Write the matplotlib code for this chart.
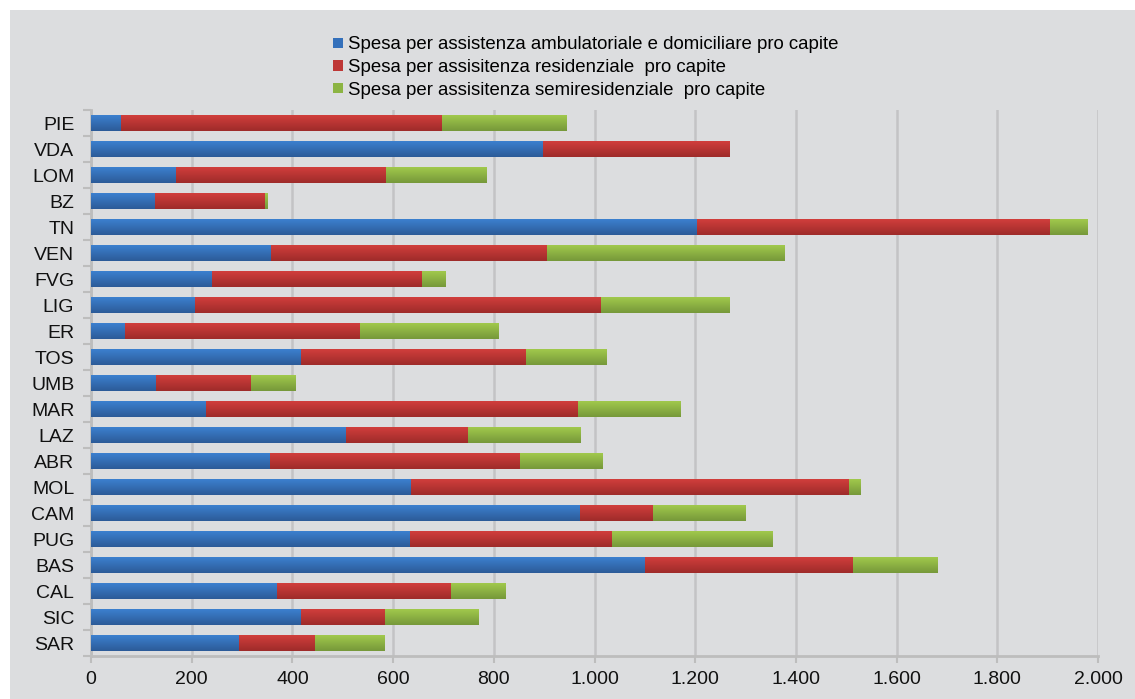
import numpy as np
import matplotlib.pyplot as plt
from matplotlib.patches import Rectangle
from matplotlib.colors import LinearSegmentedColormap
from matplotlib.ticker import FuncFormatter

plt.rcParams['font.family'] = ['Liberation Sans', 'DejaVu Sans']

regions = ['PIE', 'VDA', 'LOM', 'BZ', 'TN', 'VEN', 'FVG', 'LIG', 'ER', 'TOS', 'UMB',
           'MAR', 'LAZ', 'ABR', 'MOL', 'CAM', 'PUG', 'BAS', 'CAL', 'SIC', 'SAR']

# spesa pro capite (euro)
ambulatoriale = [60, 897, 169, 127, 1203, 357, 240, 206, 67, 417, 129,
                 228, 506, 355, 636, 971, 633, 1100, 370, 417, 294]
residenziale = [637, 370, 417, 218, 702, 549, 417, 807, 467, 447, 189,
                739, 242, 497, 869, 145, 401, 413, 345, 167, 151]
semiresidenziale = [248, 0, 200, 4, 75, 472, 46, 256, 276, 159, 89,
                    203, 223, 163, 22, 183, 318, 167, 109, 185, 139]

labels = ['Spesa per assistenza ambulatoriale e domiciliare pro capite',
          'Spesa per assisitenza residenziale  pro capite',
          'Spesa per assisitenza semiresidenziale  pro capite']
colors = ['#3470bb', '#be3736', '#8cb443']
# top / bottom shades for the vertical gradient
shades = [('#3c80cf', '#2c5b98'), ('#d13e3c', '#9e2b2a'), ('#a1c94c', '#76983a')]
bg = '#dcdddf'

fig = plt.figure(figsize=(11.35, 6.99), dpi=100)
fig.patch.set_facecolor('white')
fig.add_artist(Rectangle((10 / 1135, 0), 1, 689 / 699, transform=fig.transFigure,
                         facecolor=bg, edgecolor='none', zorder=0))

ax = fig.add_axes([91 / 1135, 1 - 656 / 699, (1098 - 91) / 1135, (656 - 110) / 699])
ax.set_facecolor(bg)

y = np.arange(len(regions))
amb = np.array(ambulatoriale)
res = np.array(residenziale)
semi = np.array(semiresidenziale)
h = 0.615
series = [(amb, np.zeros_like(amb)), (res, amb), (semi, amb + res)]
grad = np.linspace(0, 1, 64).reshape(-1, 1)
for i, (vals, left) in enumerate(series):
    bars = ax.barh(y, vals, left=left, height=h, color=colors[i], label=labels[i], zorder=3)
    cmap = LinearSegmentedColormap.from_list(f'g{i}', shades[i])
    for b in bars:
        x0, y0 = b.get_x(), b.get_y()
        w, hh = b.get_width(), b.get_height()
        if w <= 0:
            continue
        # y axis is inverted: y0 is the visual top
        ax.imshow(grad, cmap=cmap, aspect='auto', interpolation='bilinear',
                  extent=[x0, x0 + w, y0 + hh, y0], origin='upper', zorder=4)

ax.set_ylim(len(regions) - 0.5, -0.5)
ax.set_yticks(y)
ax.set_yticklabels(regions)
ax.set_yticks(np.arange(-0.5, len(regions), 1), minor=True)
ax.tick_params(axis='y', which='major', length=0, pad=12, labelsize=14, labelcolor='#111111')
ax.tick_params(axis='y', which='minor', length=6, width=1.5, color='#bdbdbd')

ax.set_xlim(0, 2000)
ax.set_xticks(np.arange(0, 2001, 200))
ax.xaxis.set_major_formatter(FuncFormatter(lambda v, p: f'{v:,.0f}'.replace(',', '.')))
ax.tick_params(axis='x', length=5, width=1.5, color='#bdbdbd', labelsize=14,
               labelcolor='#111111', pad=6)
ax.xaxis.grid(True, color='#c3c3c5', linewidth=1.8, zorder=0)
ax.set_axisbelow(True)

for s in ['top', 'right']:
    ax.spines[s].set_visible(False)
for s in ['left', 'bottom']:
    ax.spines[s].set_color('#bdbdbd')
    ax.spines[s].set_linewidth(2)

fig.legend(loc='upper left', bbox_to_anchor=(326 / 1135, 1 - 29 / 699), frameon=False,
           fontsize=13.4, handlelength=0.5, handleheight=0.5, handletextpad=0.3,
           labelspacing=0.3, borderaxespad=0, labelcolor='#000000')

fig.savefig('out.png', dpi=100, facecolor=fig.get_facecolor())
